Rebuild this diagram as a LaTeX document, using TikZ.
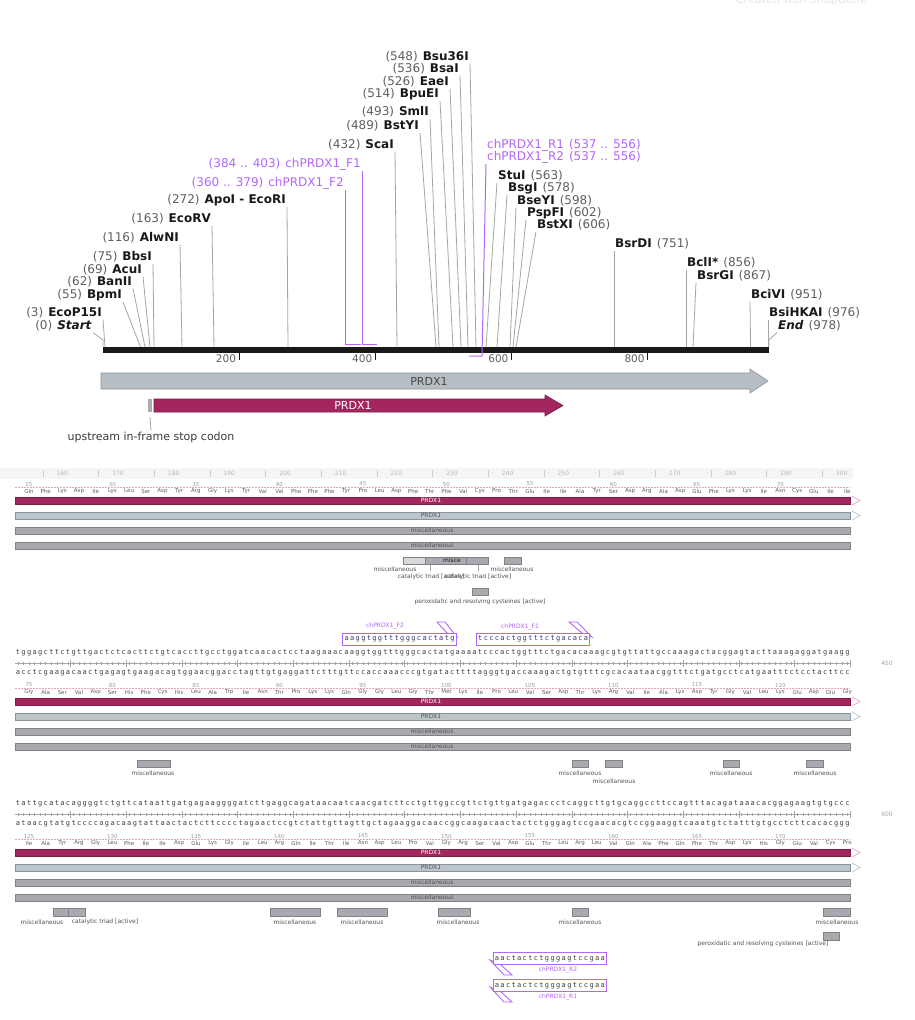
\documentclass[tikz,border=0pt]{standalone}
\usepackage{fontspec}
\setmainfont{DejaVu Sans}
\newfontfamily\seqfont{DejaVu Sans Mono}
\usetikzlibrary{positioning,calc}
\definecolor{ink}{RGB}{25,25,25}
\definecolor{numg}{RGB}{95,95,95}
\definecolor{cutg}{RGB}{165,165,165}
\definecolor{prim}{RGB}{178,102,250}
\definecolor{cds}{RGB}{163,39,94}
\definecolor{cdsd}{RGB}{122,28,70}
\definecolor{gene}{RGB}{182,190,196}
\definecolor{gened}{RGB}{138,148,156}
\definecolor{genel}{RGB}{186,198,200}
\definecolor{misc}{RGB}{168,170,176}
\definecolor{miscd}{RGB}{128,130,136}
\definecolor{frm}{RGB}{232,165,175}
\tikzset{
  enz/.style={font=\fontsize{12}{13}\selectfont,inner sep=1pt,text=ink},
  prl/.style={font=\fontsize{12}{13}\selectfont,inner sep=1pt,text=prim},
  cut/.style={draw=cutg,line width=0.8pt},
  pline/.style={draw=prim,line width=1pt},
  tiny/.style={font=\fontsize{6}{6}\selectfont,inner sep=0pt,text=ink!75},
  aa/.style={font=\fontsize{5.5}{6}\selectfont,inner sep=0pt,text=numg},
  seq/.style={font=\seqfont\fontsize{7}{7}\selectfont,inner sep=0pt,anchor=west,text=ink!85},
  cdsbar/.style={fill=cds,draw=cdsd,line width=0.4pt},
  genebar/.style={fill=genel,draw=gened,line width=0.4pt},
  miscbar/.style={fill=misc,draw=miscd,line width=0.4pt},
  featbox/.style={fill=misc,draw=miscd,line width=0.4pt},
  primbox/.style={draw=prim,fill=white,line width=0.9pt},
  tickl/.style={draw=gray!70,line width=0.4pt},
}
% one base per fixed-width box
\def\seqrun#1{\ifx#1\relax\else\makebox[5.567pt]{#1}\expandafter\seqrun\fi}
\newcommand\seqtext[1]{\seqrun#1\relax}

\begin{document}
\begin{tikzpicture}[x=1pt,y=-1pt]
\useasboundingbox (0,0) rectangle (915,1020);
\fill[white] (0,0) rectangle (915,1020);
\node[font=\fontsize{11}{11}\selectfont,text=gray!20,anchor=east,inner sep=0pt] (wmark) at (867,0) {Created with SnapGene};

% ---------- map ----------
\fill[ink] (103,347) rectangle (769,353);
\foreach \t in {200,400,600,800}{
  \coordinate (t\t) at ({103+\t*0.681},353);
  \draw[ink,line width=1.1pt] (t\t) -- ++(0,7);
  \node[font=\fontsize{10.5}{11}\selectfont,text=numg,anchor=east,inner sep=1pt] (tl\t) at ($(t\t)+(-2,5.5)$) {\t};
}
% enzymes left of their line
\foreach \nm/\lx/\ly/\sx/\num/\name in {
  ecop/103/313/105/3/EcoP15I, bpm/123/295/140.5/55/BpmI, ban/133/282/145/62/BanII,
  acu/143/270/150/69/AcuI, bbs/153/257/154/75/BbsI, alw/180/238/182/116/AlwNI,
  ecv/212/219/214/163/EcoRV, apo/287/200/288/272/ApoI - EcoRI, sca/395/145/397/432/ScaI,
  bsty/420/126/436/489/BstYI, sml/430/112/439/493/SmlI, bpu/440/94/453/514/BpuEI,
  eae/450/82/461/526/EaeI, bsa/460/69/468/536/BsaI, bsu/470/57/476/548/Bsu36I}{
  \node[enz,anchor=east] (\nm) at (\lx,\ly) {{\color{numg}(\num)}\hspace{5pt}\textbf{\name}};
  \coordinate (\nm s) at (\sx,347);
  \draw[cut] (\nm.south east) -- (\nm s);
}
% enzymes right of their line
\foreach \nm/\lx/\ly/\sx/\num/\name in {
  stu/497/176/486/563/StuI, bsg/507/188/497/578/BsgI, bsey/516/201/510/598/BseYI,
  psp/526/213/513/602/PspFI, bstx/536/225/516/606/BstXI, bsrd/614/244/614/751/BsrDI,
  bcl/686/263/686/856/BclI*, bsrg/696/276/693/867/BsrGI, bci/750/295/750.6/951/BciVI,
  bsi/768/313/768/976/BsiHKAI}{
  \node[enz,anchor=west] (\nm) at (\lx,\ly) {\textbf{\name}\hspace{5pt}{\color{numg}(\num)}};
  \coordinate (\nm s) at (\sx,347);
  \draw[cut] (\nm.south west) -- (\nm s);
}
% start / end
\node[enz,anchor=east] (start) at (93,326) {{\color{numg}(0)}\hspace{5pt}\textbf{\itshape Start}};
\coordinate (s0) at (103,347);
\draw[cut] (start.south east) -- ($(s0)+(0,-7)$) -- (s0);
\node[enz,anchor=west] (finish) at (777,326) {\textbf{\itshape End}\hspace{5pt}{\color{numg}(978)}};
\coordinate (s978) at (769,347);
\draw[cut] (finish.south west) -- ($(s978)+(0,-7)$) -- (s978);
% primers
\node[prl,anchor=east] (pf2) at (345,183) {(360 .. 379)\hspace{5pt}chPRDX1\_F2};
\coordinate (pf2a) at (361,344);
\draw[pline] (pf2.south east) |- (pf2a);
\node[prl,anchor=east] (pf1) at (362,164) {(384 .. 403)\hspace{5pt}chPRDX1\_F1};
\coordinate (pf1a) at (377,344);
\draw[pline] (pf1.south east) |- (pf1a);
\node[prl,anchor=west] (pr1) at (486,145) {chPRDX1\_R1\hspace{5pt}(537 .. 556)};
\node[prl,anchor=west] (pr2) at (486,157) {chPRDX1\_R2\hspace{5pt}(537 .. 556)};
\coordinate (pra) at (469,356);
\draw[pline] (pr2.south west) -- (482,356) -- (pra);
% features
\draw[fill=gene,draw=gened,line width=0.6pt] (101,373) -- (750,373) -- (750,369) -- (768,381)
  -- (750,393) -- (750,389) -- (101,389) -- cycle;
\node[font=\fontsize{11}{11}\selectfont,text=ink!80] (genelbl) at (429,381) {PRDX1};
\draw[cdsbar,line width=0.6pt] (154,399) -- (545,399) -- (545,395) -- (563,405.5)
  -- (545,416) -- (545,412) -- (154,412) -- cycle;
\node[font=\fontsize{11}{11}\selectfont,text=white] (cdslbl) at (353,405.5) {PRDX1};
\node[fill=gray!65,minimum width=4pt,minimum height=13pt,inner sep=0pt] (stopmk) at (150,405.5) {};
\node[font=\fontsize{11}{12}\selectfont,text=ink!85,inner sep=1pt] (stoplbl) at (151,437) {upstream in-frame stop codon};
\draw[cut] ([yshift=-5pt]stopmk.south) -- (stoplbl.north);

% ---------- sequence view ----------
\fill[gray!8] (0,468) rectangle (853,479);
\foreach \k in {1,...,15}{
  \pgfmathtruncatemacro\rn{150+10*\k}
  \node[tiny,text=gray!55] (r\k) at ({15+(10*\k-1.5)*5.567},473.5) {\rn};
  \draw[gray!40,line width=0.4pt] ({15+(10*\k-5)*5.567},470) -- ++(0,7);
}
% feature tracks of the three rows
\foreach \yb [count=\b] in {497,698,849}{
  \draw[frm,dash pattern=on 1.5pt off 1.5pt,line width=0.4pt] (15,\yb-9.5) -- (850,\yb-9.5);
  \draw[cdsbar] (15,\yb) rectangle (850,\yb+7);
  \draw[genebar] (15,\yb+15) rectangle (850,\yb+22);
  \draw[miscbar] (15,\yb+30) rectangle (850,\yb+37);
  \draw[miscbar] (15,\yb+45) rectangle (850,\yb+52);
  \draw[cds!45,line width=0.6pt] (852,\yb-1) -- (860,\yb+3.5) -- (852,\yb+8);
  \draw[gened!60,line width=0.6pt] (852,\yb+14) -- (860,\yb+18.5) -- (852,\yb+23);
  \node[tiny,text=white] (c\b) at (431,\yb+3.5) {PRDX1};
  \node[tiny] (g\b) at (431,\yb+18.5) {PRDX1};
  \node[tiny] (m\b) at (432,\yb+33.5) {miscellaneous};
  \node[tiny] (n\b) at (432,\yb+48.5) {miscellaneous};
}
% translations
\foreach \a [count=\k] in {Gln,Phe,Lys,Asp,Ile,Lys,Leu,Ser,Asp,Tyr,Arg,Gly,Lys,Tyr,Val,Val,Phe,
  Phe,Phe,Tyr,Pro,Leu,Asp,Phe,Thr,Phe,Val,Cys,Pro,Thr,Glu,Ile,Ile,Ala,Tyr,Ser,Asp,Arg,Ala,Asp,
  Glu,Phe,Lys,Lys,Ile,Asn,Cys,Glu,Ile,Ile}
  \node[aa] (a1-\k) at ({15+(3*\k-0.5)*5.567},491) {\a};
\foreach \a [count=\k] in {Gly,Ala,Ser,Val,Asp,Ser,His,Phe,Cys,His,Leu,Ala,Trp,Ile,Asn,Thr,Pro,
  Lys,Lys,Gln,Gly,Gly,Leu,Gly,Thr,Met,Lys,Ile,Pro,Leu,Val,Ser,Asp,Thr,Lys,Arg,Val,Ile,Ala,Lys,
  Asp,Tyr,Gly,Val,Leu,Lys,Glu,Asp,Glu,Gly}
  \node[aa] (a2-\k) at ({15+(3*\k-0.5)*5.567},692) {\a};
\foreach \a [count=\k] in {Ile,Ala,Tyr,Arg,Gly,Leu,Phe,Ile,Ile,Asp,Glu,Lys,Gly,Ile,Leu,Arg,Gln,
  Ile,Thr,Ile,Asn,Asp,Leu,Pro,Val,Gly,Arg,Ser,Val,Asp,Glu,Thr,Leu,Arg,Leu,Val,Gln,Ala,Phe,Gln,
  Phe,Thr,Asp,Lys,His,Gly,Glu,Val,Cys,Pro}
  \node[aa] (a3-\k) at ({15+(3*\k-0.5)*5.567},843) {\a};
\foreach \yb/\first in {484/25,685/75,836/125}
  \foreach \m in {0,...,9}{
    \pgfmathtruncatemacro\nn{\first+5*\m}
    \node[aa,text=gray!75] (num\nn) at ({15+(15*\m+2.5)*5.567},\yb) {\nn};
  }
% DNA, rows 2 and 3
\node[seq] (top2) at (15,653) {\seqtext{tggagcttct gttgactctc acttctgtca ccttgcctgg atcaacactc ctaagaaaca aggtggtttg ggcactatga aaatcccact ggtttctgac acaaagcgtg ttattgccaa agactacgga gtacttaaag aggatgaagg}};
\node[seq] (bot2) at (15,673) {\seqtext{acctcgaaga caactgagag tgaagacagt ggaacggacc tagttgtgag gattctttgt tccaccaaac ccgtgatact tttagggtga ccaaagactg tgtttcgcac aataacggtt tctgatgcct catgaatttc tcctacttcc}};
\node[seq] (top3) at (15,804) {\seqtext{tattgcatac aggggtctgt tcataattga tgagaagggg atcttgaggc agataacaat caacgatctt cctgttggcc gttctgttga tgagaccctc aggcttgtgc aggccttcca gtttacagat aaacacggag aagtgtgccc}};
\node[seq] (bot3) at (15,824) {\seqtext{ataacgtatg tccccagaca agtattaact actcttcccc tagaactccg tctattgtta gttgctagaa ggacaaccgg caagacaact actctgggag tccgaacacg tccggaaggt caaatgtcta tttgtgcctc ttcacacggg}};
\foreach \ym in {663,814}{
  \draw[tickl] (15,\ym) -- (850,\ym);
  \foreach \i in {1,...,150}
    \draw[tickl] ({15+(\i-0.5)*5.567},\ym-1.5) -- ++(0,3);
  \foreach \i in {10,20,...,150}
    \draw[tickl] ({15+\i*5.567},\ym-3.5) -- ++(0,7);
}
\node[tiny,text=gray!70] (e450) at (887,663) {450};
\node[tiny,text=gray!70] (e600) at (887,814) {600};

% small features, row 1
\draw[featbox] (403,557) rectangle (488,564);
\fill[misc!45] (403.5,557.5) rectangle (425,563.5);
\draw[miscd,line width=0.3pt] (425,557) -- (425,564) (466,557) -- (466,564);
\node[tiny,text=ink] (mis1) at (452,560.5) {misce};
\draw[featbox] (504,557) rectangle (521,564);
\draw[cut,line width=0.4pt] (430,565) -- (430,571) (478,565) -- (478,571);
\node[tiny] (f1a) at (395,569) {miscellaneous};
\node[tiny] (f1b) at (512,569) {miscellaneous};
\node[tiny] (f1c) at (431,577) {catalytic triad [active]};
\node[tiny] (f1d) at (478,577) {catalytic triad [active]};
\draw[featbox] (472,588) rectangle (488,595);
\node[tiny] (f1e) at (480,602) {peroxidatic and resolving cysteines [active]};

% small features, row 2
\foreach \xa/\xb in {137/170,572/588,605/622,723/739,806/823}
  \draw[featbox] (\xa,760) rectangle (\xb,767);
\foreach \i/\xc/\yc in {1/153/773,2/580/773,3/614/781,4/731/773,5/815/773}
  \node[tiny] (f2\i) at (\xc,\yc) {miscellaneous};

% small features, row 3
\foreach \xa/\xb in {53/68,68/85,270/320,337/387,438/470,572/588,823/850}
  \draw[featbox] (\xa,908) rectangle (\xb,916);
\foreach \i/\xc in {1/42,2/295,3/362,4/458,5/580,6/837}
  \node[tiny] (f3\i) at (\xc,922) {miscellaneous};
\node[tiny] (f3t) at (105,922) {catalytic triad [active]};
\draw[featbox] (823,932) rectangle (839,940);
\node[tiny] (f3p) at (763,944) {peroxidatic and resolving cysteines [active]};

% primers on the sequence
\draw[primbox] (437,622) -- (445,622) -- (457,637) -- (447,633) -- cycle;
\node[primbox,seq,inner sep=1pt,minimum height=12pt] (bf2) at ({15+59*5.567-1},639) {\seqtext{aaggtggttt gggcactatg}};
\node[tiny,text=prim] (lf2) at (385,626) {chPRDX1\_F2};
\draw[primbox] (569,622) -- (577,622) -- (592,637) -- (582,633) -- cycle;
\node[primbox,seq,inner sep=1pt,minimum height=12pt] (bf1) at ({15+83*5.567-1},639) {\seqtext{tcccactggt ttctgacaca}};
\node[tiny,text=prim] (lf1) at (520,627) {chPRDX1\_F1};
\draw[primbox] (512,975) -- (504,975) -- (490,960) -- (500,964) -- cycle;
\node[primbox,seq,inner sep=1pt,minimum height=12pt] (br2) at ({15+86*5.567-1},958.5) {\seqtext{aactactctg ggagtccgaa}};
\node[tiny,text=prim] (lr2) at (558,970) {chPRDX1\_R2};
\draw[primbox] (512,1002) -- (504,1002) -- (490,987) -- (500,991) -- cycle;
\node[primbox,seq,inner sep=1pt,minimum height=12pt] (br1) at ({15+86*5.567-1},985.5) {\seqtext{aactactctg ggagtccgaa}};
\node[tiny,text=prim] (lr1) at (558,997) {chPRDX1\_R1};
\end{tikzpicture}
\end{document}
